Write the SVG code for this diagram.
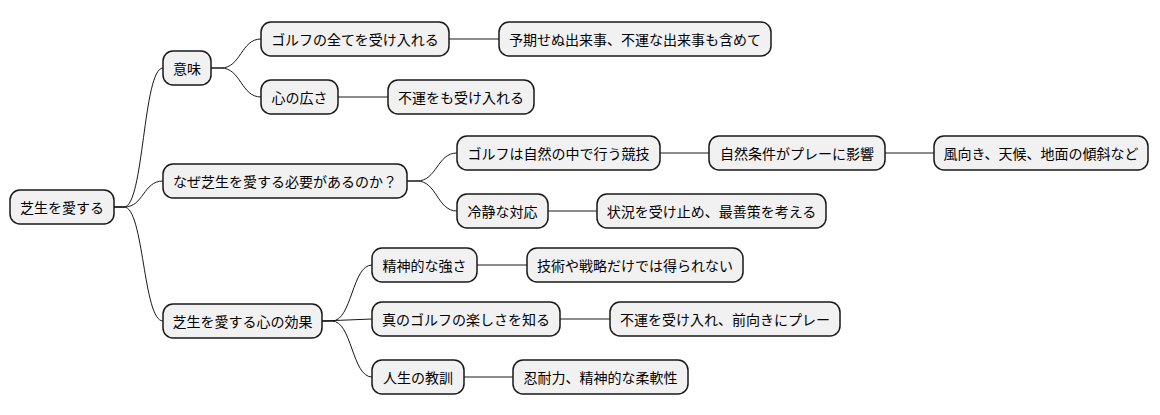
<svg xmlns="http://www.w3.org/2000/svg" width="1160" height="415" viewBox="0 0 1160 415">
<style>
.n rect{fill:#F1F1F1;stroke:#181818;stroke-width:1.5}
.n text{font-family:"Noto Sans CJK JP","Liberation Sans",sans-serif;font-size:14px;fill:#000;text-anchor:middle;dominant-baseline:central}
.c path{fill:none;stroke:#181818;stroke-width:1}
</style>
<rect width="1160" height="415" fill="#fff"/>
<g class="c">
<path d="M114,207 L124,207 C144,207 143,68 163,68"/>
<path d="M114,207 L124,207 C144,207 143,181 163,181"/>
<path d="M114,207 L124,207 C144,207 143,321 163,321"/>
<path d="M211,68 L221,68 C241,68 241,39 261,39"/>
<path d="M211,68 L221,68 C241,68 241,97 261,97"/>
<path d="M449,39 L499,39"/>
<path d="M338,97 L388,97"/>
<path d="M407,181 L417,181 C437,181 437,153 457,153"/>
<path d="M407,181 L417,181 C437,181 437,211 457,211"/>
<path d="M660,153 L709,153"/>
<path d="M885,153 L934,153"/>
<path d="M548,211 L597,211"/>
<path d="M322,321 L332,321 C352,321 352,265 372,265"/>
<path d="M322,321 L372,319"/>
<path d="M322,321 L332,321 C352,321 352,377 372,377"/>
<path d="M477,265 L527,265"/>
<path d="M560,319 L610,319"/>
<path d="M464,377 L513,377"/>
</g>
<g id="root" class="n"><rect x="10" y="190" width="104" height="34" rx="10"/><text x="62" y="207">芝生を愛する</text></g>
<g id="imi" class="n"><rect x="163" y="51" width="48" height="34" rx="10"/><text x="187" y="68">意味</text></g>
<g id="golf-all" class="n"><rect x="261" y="22" width="188" height="34" rx="10"/><text x="355" y="39">ゴルフの全てを受け入れる</text></g>
<g id="yoki" class="n"><rect x="499" y="22" width="272" height="34" rx="10"/><text x="635" y="39">予期せぬ出来事、不運な出来事も含めて</text></g>
<g id="kokoro" class="n"><rect x="261" y="80" width="77" height="34" rx="10"/><text x="299.5" y="97">心の広さ</text></g>
<g id="fuun" class="n"><rect x="388" y="80" width="146" height="34" rx="10"/><text x="461" y="97">不運をも受け入れる</text></g>
<g id="naze" class="n"><rect x="163" y="164" width="244" height="34" rx="10"/><text x="285" y="181">なぜ芝生を愛する必要があるのか？</text></g>
<g id="shizen" class="n"><rect x="457" y="136" width="203" height="34" rx="10"/><text x="558.5" y="153">ゴルフは自然の中で行う競技</text></g>
<g id="joken" class="n"><rect x="709" y="136" width="176" height="34" rx="10"/><text x="797" y="153">自然条件がプレーに影響</text></g>
<g id="kaze" class="n"><rect x="934" y="136" width="214" height="34" rx="10"/><text x="1041" y="153">風向き、天候、地面の傾斜など</text></g>
<g id="reisei" class="n"><rect x="457" y="194" width="91" height="34" rx="10"/><text x="502.5" y="211">冷静な対応</text></g>
<g id="jokyo" class="n"><rect x="597" y="194" width="229" height="34" rx="10"/><text x="711.5" y="211">状況を受け止め、最善策を考える</text></g>
<g id="koka" class="n"><rect x="163" y="304" width="159" height="34" rx="10"/><text x="242.5" y="321">芝生を愛する心の効果</text></g>
<g id="seishin" class="n"><rect x="372" y="248" width="105" height="34" rx="10"/><text x="424.5" y="265">精神的な強さ</text></g>
<g id="gijutsu" class="n"><rect x="527" y="248" width="216" height="34" rx="10"/><text x="635" y="265">技術や戦略だけでは得られない</text></g>
<g id="tanoshisa" class="n"><rect x="372" y="302" width="188" height="34" rx="10"/><text x="466" y="319">真のゴルフの楽しさを知る</text></g>
<g id="maemuki" class="n"><rect x="610" y="302" width="230" height="34" rx="10"/><text x="725" y="319">不運を受け入れ、前向きにプレー</text></g>
<g id="jinsei" class="n"><rect x="372" y="360" width="92" height="34" rx="10"/><text x="418" y="377">人生の教訓</text></g>
<g id="nintai" class="n"><rect x="513" y="360" width="175" height="34" rx="10"/><text x="600.5" y="377">忍耐力、精神的な柔軟性</text></g>
</svg>
